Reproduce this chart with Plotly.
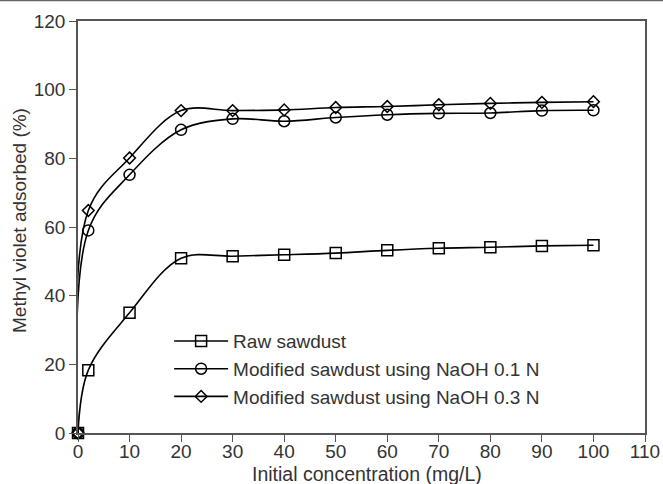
import plotly.graph_objects as go

conc = [0, 2, 10, 20, 30, 40, 50, 60, 70, 80, 90, 100]
raw = [0, 18.3, 35.0, 50.9, 51.5, 51.9, 52.4, 53.2, 53.8, 54.1, 54.5, 54.7]
naoh01 = [0, 59.0, 75.2, 88.3, 91.5, 90.8, 91.9, 92.7, 93.1, 93.2, 93.9, 94.0]
naoh03 = [0, 64.8, 80.1, 93.9, 93.9, 94.1, 94.8, 95.1, 95.6, 96.0, 96.3, 96.5]

names = ["Raw sawdust", "Modified sawdust using NaOH 0.1 N", "Modified sawdust using NaOH 0.3 N"]
series = [raw, naoh01, naoh03]
symbols = ["square-open", "circle-open", "diamond-open"]
sizes = [11, 11, 9]
x_title = "Initial concentration (mg/L)"
y_title = "Methyl violet adsorbed (%)"

FONT = "Liberation Sans, Arial, Helvetica, sans-serif"
TXT = "#333333"
AX = "#555555"

fig = go.Figure()
for name, ys, sym, sz in zip(names, series, symbols, sizes):
    fig.add_trace(go.Scatter(
        x=conc, y=ys, name=name, mode="lines+markers",
        line=dict(color="black", width=1.6, shape="spline", smoothing=1.0),
        marker=dict(symbol=sym, size=sz, color="black", line=dict(color="black", width=1.5)),
        cliponaxis=False,
    ))

fig.update_layout(
    width=663, height=484,
    margin=dict(l=78, r=18, t=21, b=51, autoexpand=False),
    paper_bgcolor="white", plot_bgcolor="white",
    font=dict(family=FONT, size=19, color=TXT),
    showlegend=True,
    legend=dict(x=0.1607, y=0.269, xanchor="left", yanchor="top",
                bgcolor="rgba(0,0,0,0)", borderwidth=0, itemwidth=54,
                font=dict(size=19, color=TXT), tracegroupgap=0),
    xaxis=dict(range=[0, 110], tickvals=list(range(0, 111, 10)), automargin=False,
               showgrid=False, zeroline=False, showline=True, mirror=True,
               linecolor=AX, linewidth=1.5, ticks="outside", ticklen=7,
               ticklabelstandoff=-7,
               tickcolor=AX, tickwidth=1.2, tickfont=dict(size=19, color=TXT)),
    yaxis=dict(range=[0, 120], tickvals=list(range(0, 121, 20)), automargin=False,
               showgrid=False, zeroline=False, showline=True, mirror=True,
               linecolor=AX, linewidth=1.5, ticks="outside", ticklen=7,
               tickcolor=AX, tickwidth=1.2, tickfont=dict(size=19, color=TXT)),
)

fig.add_annotation(text=x_title, xref="paper", yref="paper", x=0.509, y=-0.0994,
                   xanchor="center", yanchor="middle", showarrow=False,
                   font=dict(size=19.5, color=TXT))
fig.add_annotation(text=y_title, xref="paper", yref="paper", x=-0.1023, y=0.517,
                   xanchor="center", yanchor="middle", showarrow=False, textangle=-90,
                   font=dict(size=19, color=TXT))

# thin grey border line along the top of the image
fig.add_shape(type="line", xref="paper", yref="paper",
              x0=-78/567, x1=1+18/567, y0=1+20.5/412.3, y1=1+20.5/412.3,
              line=dict(color="#666666", width=1.5))

fig.write_html("out.html")
